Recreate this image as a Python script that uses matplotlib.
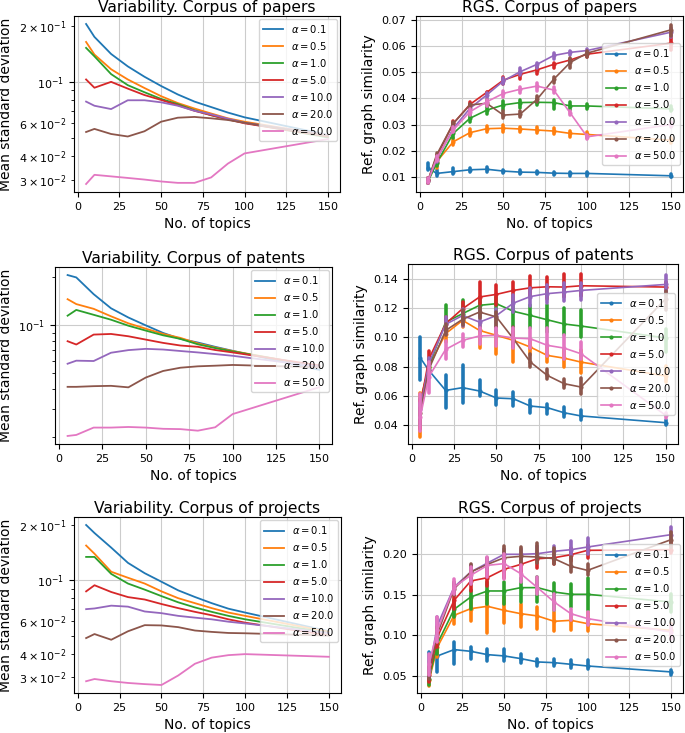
import matplotlib
matplotlib.use("Agg")
import matplotlib.pyplot as plt

# ---------------- data ----------------
topics = [5, 10, 20, 30, 40, 50, 60, 70, 80, 90, 100, 150]
alphas = [0.1, 0.5, 1.0, 5.0, 10.0, 20.0, 50.0]
colors = ["#1f77b4", "#ff7f0e", "#2ca02c", "#d62728", "#9467bd", "#8c564b", "#e377c2"]

# Variability (mean standard deviation), one row per alpha
pap_var = [
    [0.204, 0.174, 0.141, 0.121, 0.1065, 0.095, 0.0856, 0.0784, 0.0733, 0.0685, 0.0646, 0.052],
    [0.1635, 0.140, 0.1168, 0.103, 0.0927, 0.0838, 0.077, 0.072, 0.0677, 0.0638, 0.0612, 0.0517],
    [0.152, 0.137, 0.110, 0.096, 0.088, 0.081, 0.076, 0.0705, 0.0663, 0.063, 0.0604, 0.0504],
    [0.103, 0.093, 0.100, 0.092, 0.085, 0.080, 0.075, 0.070, 0.0663, 0.063, 0.060, 0.051],
    [0.0784, 0.0745, 0.0715, 0.0797, 0.0797, 0.0777, 0.0745, 0.070, 0.067, 0.0635, 0.0604, 0.052],
    [0.0539, 0.056, 0.0526, 0.051, 0.0544, 0.0612, 0.0643, 0.0649, 0.0638, 0.0625, 0.0604, 0.0515],
    [0.0284, 0.0318, 0.0312, 0.0306, 0.030, 0.0293, 0.0288, 0.0288, 0.0308, 0.0365, 0.0414, 0.0494],
]
pat_var = [
    [0.207, 0.200, 0.157, 0.128, 0.112, 0.100, 0.0896, 0.0822, 0.078, 0.0733, 0.0692, 0.0525],
    [0.146, 0.136, 0.127, 0.114, 0.103, 0.0953, 0.0884, 0.0834, 0.077, 0.0726, 0.069, 0.055],
    [0.115, 0.125, 0.1165, 0.1085, 0.0995, 0.0927, 0.0866, 0.0822, 0.076, 0.072, 0.0686, 0.055],
    [0.0795, 0.0758, 0.0875, 0.0883, 0.0854, 0.0814, 0.0776, 0.0747, 0.0733, 0.070, 0.0676, 0.056],
    [0.0574, 0.060, 0.0597, 0.0673, 0.0699, 0.0712, 0.0705, 0.069, 0.0676, 0.066, 0.0644, 0.055],
    [0.0411, 0.0411, 0.0415, 0.0417, 0.0408, 0.047, 0.0517, 0.0542, 0.0553, 0.0558, 0.0564, 0.0545],
    [0.0202, 0.0205, 0.0228, 0.0228, 0.023, 0.0228, 0.0224, 0.0223, 0.0218, 0.0229, 0.0277, 0.0409],
]
prj_var = [
    [0.199, 0.180, 0.150, 0.124, 0.109, 0.098, 0.088, 0.081, 0.075, 0.070, 0.0667, 0.0528],
    [0.154, 0.139, 0.111, 0.103, 0.0958, 0.0869, 0.0798, 0.075, 0.0705, 0.0667, 0.064, 0.0524],
    [0.1336, 0.1336, 0.108, 0.0958, 0.0888, 0.0819, 0.0758, 0.0711, 0.0673, 0.064, 0.0613, 0.0517],
    [0.0869, 0.0938, 0.0862, 0.0809, 0.0785, 0.0742, 0.0705, 0.0673, 0.0645, 0.0613, 0.0588, 0.0502],
    [0.0696, 0.0702, 0.0727, 0.0718, 0.0676, 0.0662, 0.064, 0.0626, 0.0613, 0.0595, 0.0582, 0.0517],
    [0.0485, 0.051, 0.0475, 0.0528, 0.057, 0.0568, 0.0556, 0.0533, 0.0524, 0.0517, 0.0515, 0.050],
    [0.0283, 0.0291, 0.0283, 0.0277, 0.0273, 0.027, 0.0304, 0.0352, 0.038, 0.0392, 0.0397, 0.0384],
]

# RGS: mean line, lowest and highest run value, one row per alpha
pap_rgs_mean = [
    [0.0135, 0.0113, 0.012, 0.0127, 0.0129, 0.0122, 0.0118, 0.0117, 0.0114, 0.0113, 0.0113, 0.0104],
    [0.0087, 0.0157, 0.0234, 0.0269, 0.0284, 0.0286, 0.0283, 0.0279, 0.0275, 0.0266, 0.0262, 0.024],
    [0.0083, 0.0151, 0.0266, 0.0324, 0.0355, 0.0375, 0.0384, 0.0385, 0.0384, 0.0371, 0.0371, 0.036],
    [0.0087, 0.0177, 0.0304, 0.0377, 0.0423, 0.047, 0.0492, 0.0509, 0.053, 0.0547, 0.0569, 0.0611],
    [0.0087, 0.0166, 0.0285, 0.0362, 0.0413, 0.0467, 0.0502, 0.053, 0.0564, 0.0576, 0.0583, 0.0653],
    [0.0087, 0.0183, 0.0304, 0.0375, 0.0381, 0.0336, 0.034, 0.0396, 0.0473, 0.0538, 0.0573, 0.0662],
    [0.0085, 0.017, 0.0279, 0.0349, 0.0387, 0.0419, 0.0435, 0.0447, 0.0432, 0.0343, 0.0253, 0.0300],
]
pap_rgs_lo = [
    [0.0125, 0.0103, 0.011, 0.0118, 0.0118, 0.0115, 0.011, 0.011, 0.0107, 0.0105, 0.0105, 0.0098],
    [0.0078, 0.0135, 0.0222, 0.0255, 0.0272, 0.027, 0.027, 0.0268, 0.0262, 0.0252, 0.025, 0.023],
    [0.0075, 0.014, 0.025, 0.0308, 0.034, 0.0355, 0.0365, 0.0375, 0.036, 0.0355, 0.036, 0.035],
    [0.0078, 0.0168, 0.0292, 0.0365, 0.0415, 0.0455, 0.0475, 0.0495, 0.0515, 0.0535, 0.0558, 0.0585],
    [0.0078, 0.0155, 0.0272, 0.0352, 0.040, 0.0455, 0.049, 0.0515, 0.055, 0.0565, 0.0575, 0.0635],
    [0.0078, 0.017, 0.0295, 0.036, 0.037, 0.0325, 0.033, 0.0385, 0.046, 0.0515, 0.056, 0.064],
    [0.0078, 0.016, 0.027, 0.0335, 0.037, 0.0405, 0.042, 0.043, 0.042, 0.0335, 0.0245, 0.029],
]
pap_rgs_hi = [
    [0.0152, 0.0125, 0.0132, 0.0135, 0.0138, 0.0128, 0.0125, 0.0124, 0.012, 0.012, 0.012, 0.011],
    [0.0095, 0.0165, 0.0248, 0.0282, 0.0295, 0.030, 0.0292, 0.029, 0.0288, 0.0275, 0.0272, 0.025],
    [0.0092, 0.0165, 0.028, 0.0335, 0.037, 0.039, 0.0395, 0.0398, 0.0395, 0.0385, 0.038, 0.037],
    [0.0095, 0.0185, 0.0312, 0.0385, 0.0425, 0.048, 0.050, 0.052, 0.0535, 0.055, 0.0575, 0.065],
    [0.0095, 0.0178, 0.0298, 0.037, 0.042, 0.0478, 0.0515, 0.0535, 0.0572, 0.058, 0.059, 0.0668],
    [0.0095, 0.019, 0.031, 0.038, 0.0392, 0.035, 0.035, 0.041, 0.048, 0.0555, 0.058, 0.068],
    [0.0095, 0.018, 0.029, 0.036, 0.0395, 0.043, 0.0445, 0.0458, 0.0442, 0.035, 0.026, 0.031],
]

pat_rgs_mean = [
    [0.086, 0.0775, 0.0637, 0.0656, 0.0633, 0.0585, 0.058, 0.053, 0.0519, 0.0484, 0.0462, 0.0416],
    [0.057, 0.080, 0.1026, 0.1117, 0.1048, 0.1014, 0.098, 0.0934, 0.0877, 0.0858, 0.0831, 0.0736],
    [0.055, 0.080, 0.1105, 0.1163, 0.122, 0.1231, 0.1179, 0.1151, 0.1121, 0.1092, 0.1078, 0.0996],
    [0.053, 0.085, 0.1094, 0.1197, 0.1277, 0.1295, 0.1322, 0.1340, 0.1347, 0.1345, 0.1354, 0.1345],
    [0.051, 0.082, 0.109, 0.115, 0.1105, 0.115, 0.1235, 0.128, 0.130, 0.131, 0.1322, 0.1363],
    [0.048, 0.078, 0.1048, 0.1124, 0.1174, 0.114, 0.0991, 0.0832, 0.074, 0.0683, 0.066, 0.1265],
    [0.0455, 0.073, 0.0918, 0.098, 0.101, 0.1014, 0.0996, 0.0991, 0.0946, 0.0927, 0.0888, 0.0466],
]
pat_rgs_lo = [
    [0.071, 0.074, 0.052, 0.055, 0.0596, 0.0535, 0.053, 0.048, 0.0478, 0.0455, 0.0435, 0.040],
    [0.032, 0.077, 0.097, 0.107, 0.093, 0.0886, 0.083, 0.088, 0.083, 0.080, 0.0755, 0.0695],
    [0.050, 0.078, 0.106, 0.1105, 0.1145, 0.1145, 0.1075, 0.1065, 0.1035, 0.1015, 0.100, 0.090],
    [0.037, 0.082, 0.105, 0.115, 0.123, 0.122, 0.125, 0.128, 0.1265, 0.128, 0.1285, 0.129],
    [0.045, 0.078, 0.1026, 0.108, 0.1045, 0.1045, 0.1175, 0.1215, 0.1235, 0.125, 0.1255, 0.130],
    [0.040, 0.074, 0.1015, 0.1085, 0.1135, 0.107, 0.0935, 0.0795, 0.0715, 0.0655, 0.0615, 0.119],
    [0.036, 0.062, 0.0855, 0.0935, 0.0955, 0.094, 0.0925, 0.0925, 0.0875, 0.0855, 0.0855, 0.0445],
]
pat_rgs_hi = [
    [0.100, 0.081, 0.0745, 0.081, 0.071, 0.0637, 0.0625, 0.057, 0.0547, 0.0525, 0.050, 0.0435],
    [0.062, 0.085, 0.108, 0.1195, 0.1105, 0.107, 0.104, 0.0985, 0.0945, 0.092, 0.0915, 0.0805],
    [0.058, 0.085, 0.122, 0.1255, 0.128, 0.128, 0.124, 0.122, 0.1225, 0.1205, 0.1185, 0.106],
    [0.057, 0.091, 0.114, 0.1245, 0.138, 0.136, 0.138, 0.142, 0.1414, 0.1435, 0.1435, 0.138],
    [0.055, 0.086, 0.114, 0.1195, 0.1185, 0.1195, 0.129, 0.134, 0.136, 0.1375, 0.1375, 0.1425],
    [0.052, 0.082, 0.1095, 0.119, 0.121, 0.1175, 0.107, 0.0885, 0.0785, 0.0715, 0.0725, 0.1315],
    [0.0615, 0.083, 0.0975, 0.1025, 0.1065, 0.1065, 0.1065, 0.1065, 0.1065, 0.1015, 0.097, 0.0485],
]

prj_rgs_mean = [
    [0.069, 0.0747, 0.0825, 0.0804, 0.0763, 0.0747, 0.0714, 0.0673, 0.0664, 0.0644, 0.0623, 0.055],
    [0.0447, 0.0857, 0.1248, 0.133, 0.1359, 0.1309, 0.1268, 0.124, 0.1174, 0.1186, 0.1145, 0.1063],
    [0.0467, 0.0899, 0.1322, 0.1474, 0.1548, 0.1548, 0.1589, 0.1589, 0.1535, 0.1507, 0.1507, 0.1412],
    [0.0508, 0.098, 0.1433, 0.1671, 0.1712, 0.1815, 0.1876, 0.1946, 0.1958, 0.1995, 0.2049, 0.2057],
    [0.057, 0.1124, 0.1597, 0.1782, 0.1893, 0.200, 0.200, 0.2008, 0.2037, 0.2057, 0.209, 0.2242],
    [0.0549, 0.1022, 0.1576, 0.1782, 0.1876, 0.1958, 0.1975, 0.1967, 0.1946, 0.1852, 0.1802, 0.218],
    [0.0652, 0.1063, 0.1597, 0.1741, 0.1864, 0.1885, 0.1761, 0.1589, 0.1412, 0.1268, 0.1207, 0.1042],
]
prj_rgs_lo = [
    [0.058, 0.055, 0.065, 0.071, 0.0685, 0.0685, 0.0664, 0.0623, 0.0623, 0.0603, 0.0582, 0.0508],
    [0.038, 0.0734, 0.1145, 0.118, 0.1035, 0.115, 0.1105, 0.108, 0.105, 0.107, 0.105, 0.0981],
    [0.039, 0.0775, 0.1227, 0.1329, 0.1384, 0.1384, 0.1413, 0.1413, 0.1310, 0.1351, 0.1318, 0.129],
    [0.0426, 0.0857, 0.1331, 0.1548, 0.1610, 0.1712, 0.1786, 0.1835, 0.1876, 0.1917, 0.1958, 0.2016],
    [0.049, 0.1022, 0.1536, 0.1700, 0.1823, 0.1930, 0.1930, 0.1946, 0.1967, 0.1995, 0.2008, 0.2160],
    [0.0467, 0.0939, 0.1495, 0.1639, 0.1815, 0.1885, 0.1897, 0.1897, 0.1885, 0.1782, 0.1741, 0.2094],
    [0.0508, 0.0919, 0.1515, 0.1639, 0.1720, 0.1700, 0.1659, 0.1515, 0.1310, 0.1186, 0.1127, 0.0961],
]
prj_rgs_hi = [
    [0.080, 0.082, 0.092, 0.0854, 0.0838, 0.0838, 0.077, 0.0714, 0.0714, 0.0693, 0.0693, 0.0578],
    [0.0508, 0.098, 0.1351, 0.1433, 0.1548, 0.1474, 0.1392, 0.1351, 0.1289, 0.1268, 0.1289, 0.1145],
    [0.0508, 0.1022, 0.1433, 0.1556, 0.1663, 0.1663, 0.1704, 0.1724, 0.1642, 0.1638, 0.1704, 0.1515],
    [0.0570, 0.1103, 0.1536, 0.1758, 0.1852, 0.1906, 0.1946, 0.2028, 0.2028, 0.2077, 0.2118, 0.2160],
    [0.065, 0.1226, 0.1638, 0.1864, 0.1958, 0.2069, 0.2069, 0.2098, 0.2107, 0.2160, 0.2200, 0.2336],
    [0.0610, 0.1103, 0.1659, 0.1885, 0.1958, 0.2098, 0.2094, 0.2139, 0.2077, 0.1963, 0.1885, 0.2275],
    [0.0775, 0.1224, 0.1700, 0.1843, 0.1964, 0.2000, 0.1864, 0.1720, 0.1515, 0.1330, 0.1289, 0.1127],
]

titles = ["Variability. Corpus of papers", "RGS. Corpus of papers",
          "Variability. Corpus of patents", "RGS. Corpus of patents",
          "Variability. Corpus of projects", "RGS. Corpus of projects"]

# ---------------- layout ----------------
W, H = 685, 733
fig = plt.figure(figsize=(W / 100, H / 100), dpi=100)

def ax_at(l, t, r, b):
    return fig.add_axes([l / W, 1 - b / H, (r - l) / W, (b - t) / H])

boxes = [(74, 16, 340, 192), (416, 16, 683, 192),
         (55, 267, 332, 444), (408, 264, 678, 444),
         (74, 517, 341, 693), (417, 517, 683, 693)]
ylims = [None, (0.0042, 0.0715), None, (0.027, 0.1503), None, (0.029, 0.246)]

TITLE_FS, LABEL_FS, TICK_FS, LEG_FS = 11.2, 10, 8, 7.2

var_sets = [pap_var, pat_var, prj_var]
rgs_sets = [(pap_rgs_mean, pap_rgs_lo, pap_rgs_hi),
            (pat_rgs_mean, pat_rgs_lo, pat_rgs_hi),
            (prj_rgs_mean, prj_rgs_lo, prj_rgs_hi)]

for row in range(3):
    # variability panel (log scale)
    ax = ax_at(*boxes[2 * row])
    for a, c, ys in zip(alphas, colors, var_sets[row]):
        ax.plot(topics, ys, color=c, lw=1.3, label=r"$\alpha = %s$" % a)
    ax.set_yscale("log")
    ax.grid(True, color="#cccccc", lw=0.8)
    ax.set_title(titles[2 * row], fontsize=TITLE_FS, pad=3)
    ax.set_xlabel("No. of topics", fontsize=LABEL_FS)
    ax.set_ylabel("Mean standard deviation", fontsize=LABEL_FS)
    ax.set_xticks([0, 25, 50, 75, 100, 125, 150])
    ax.tick_params(labelsize=TICK_FS, which="both")
    ax.legend(loc="upper right", fontsize=LEG_FS, borderaxespad=0.3)

    # RGS panel (linear)
    ax = ax_at(*boxes[2 * row + 1])
    means, los, his = rgs_sets[row]
    for a, c, m, lo, hi in zip(alphas, colors, means, los, his):
        vl = ax.vlines(topics, lo, hi, colors=c, lw=2.6)
        vl.set_capstyle("round")
        ax.plot(topics, m, color=c, lw=1.2, marker=".", ms=4, label=r"$\alpha = %s$" % a)
    ax.set_ylim(*ylims[2 * row + 1])
    ax.grid(True, color="#cccccc", lw=0.8)
    ax.set_title(titles[2 * row + 1], fontsize=TITLE_FS, pad=3)
    ax.set_xlabel("No. of topics", fontsize=LABEL_FS)
    ax.set_ylabel("Ref. graph similarity", fontsize=LABEL_FS)
    ax.set_xticks([0, 25, 50, 75, 100, 125, 150])
    ax.tick_params(labelsize=TICK_FS)
    ax.legend(loc="center right", fontsize=LEG_FS, borderaxespad=0.3)

fig.savefig("out.png", dpi=100)
